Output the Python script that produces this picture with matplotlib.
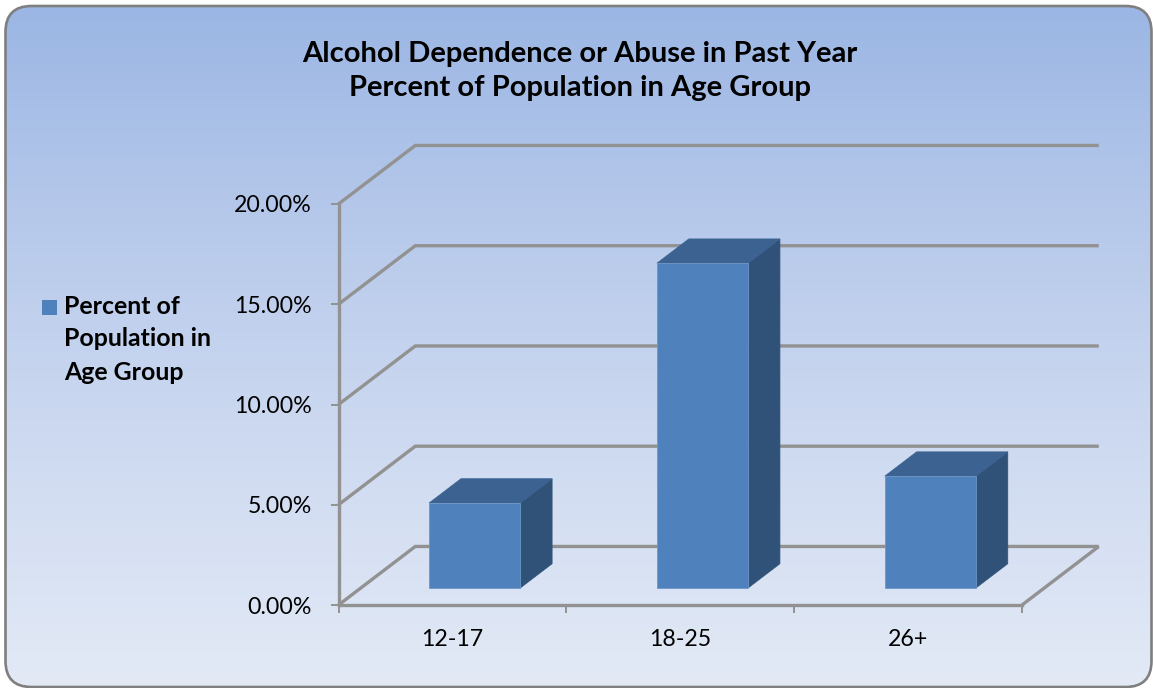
import matplotlib
matplotlib.use('Agg')
import matplotlib.pyplot as plt
import numpy as np
from matplotlib.colors import LinearSegmentedColormap
from matplotlib.patches import FancyBboxPatch, Polygon, Rectangle

W, H = 1153, 688

title_lines = ["Alcohol Dependence or Abuse in Past Year", "Percent of Population in Age Group"]
legend_lines = ["Percent of", "Population in", "Age Group"]
age_groups = ["12-17", "18-25", "26+"]
percents = [4.24, 16.2, 5.58]
y_ticks = [0, 5, 10, 15, 20]

GRID = '#929292'
FRONT = '#4f81bd'
TOP = '#3b6290'
SIDE = '#315278'

# depth of the floor in data units
DX = 0.337
DY = 2.92
BAR_W = 0.40
BAR_NEAR = 0.29
BAR_FAR = 0.705

plt.rcParams['font.family'] = ['Lato', 'DejaVu Sans']

fig = plt.figure(figsize=(W / 100, H / 100), dpi=100, facecolor='white')

# panel with vertical gradient, in pixel coordinates
bg = fig.add_axes([0, 0, 1, 1])
bg.axis('off')
cmap = LinearSegmentedColormap.from_list('panel', ['#9bb6e4', '#b8caeb', '#cfdbf1', '#e3eaf6'])
box = FancyBboxPatch((5.5 + 26, 6 + 26), 1146 - 52, 681 - 52, boxstyle='round,pad=26,rounding_size=26',
                     facecolor='none', edgecolor='#7f7f7f', linewidth=1.9, zorder=3)
bg.add_patch(box)
grad = bg.imshow(np.linspace(0, 1, 256).reshape(-1, 1), cmap=cmap, extent=[5, 1152, 687, 6], aspect='auto', zorder=1)
grad.set_clip_path(box)
bg.set_xlim(0, W)
bg.set_ylim(H, 0)

bg.text(580, 54, title_lines[0], ha='center', va='center', fontsize=21, fontweight='bold', color='black')
bg.text(580, 88, title_lines[1], ha='center', va='center', fontsize=21, fontweight='bold', color='black')

bg.add_patch(Rectangle((42, 300), 15, 15, facecolor=FRONT, edgecolor='none'))
for i, line in enumerate(legend_lines):
    bg.text(64, 306 + 33 * i, line, ha='left', va='center', fontsize=17.9, fontweight='bold', color='black')

# plot area: left axis and front floor edge
ax = fig.add_axes([338.5 / W, 1 - 605 / H, 683.5 / W, 401 / H])
ax.patch.set_alpha(0)
ax.set_xlim(0, 3)
ax.set_ylim(0, 20)
for name in ['top', 'right']:
    ax.spines[name].set_visible(False)
for name in ['left', 'bottom']:
    ax.spines[name].set_color(GRID)
    ax.spines[name].set_linewidth(2.4)
    ax.spines[name].set_zorder(2)

ax.set_yticks(y_ticks)
ax.set_yticklabels(['%.2f%%' % v for v in y_ticks], fontsize=16.7)
ax.set_xticks(range(4))
ax.set_xticklabels([])
ax.set_xticks([0.5, 1.5, 2.5], minor=True)
ax.set_xticklabels(age_groups, minor=True, fontsize=16.7)
ax.tick_params(axis='y', which='major', length=5.5, width=1.4, color=GRID, pad=13.5)
ax.tick_params(axis='x', which='major', length=5.5, width=1.4, color=GRID)
ax.tick_params(axis='x', which='minor', length=0, pad=17)

# back wall and floor lines
for v in y_ticks:
    ax.plot([0, DX, 3 + DX], [v, v + DY, v + DY], color=GRID, lw=2.4, clip_on=False, zorder=1,
            solid_joinstyle='miter', solid_capstyle='butt')
ax.plot([3, 3 + DX], [0, DY], color=GRID, lw=2.4, clip_on=False, zorder=1, solid_capstyle='butt')


def at_depth(x, y, d):
    return (x + d * DX, y + d * DY)


for i, value in enumerate(percents):
    x0 = i + 0.5 - BAR_W / 2
    x1 = x0 + BAR_W
    a = at_depth(x0, 0, BAR_NEAR)
    b = at_depth(x1, 0, BAR_NEAR)
    c = at_depth(x1, value, BAR_NEAR)
    d = at_depth(x0, value, BAR_NEAR)
    e = at_depth(x1, 0, BAR_FAR)
    f = at_depth(x1, value, BAR_FAR)
    g = at_depth(x0, value, BAR_FAR)
    ax.add_patch(Polygon([b, e, f, c], facecolor=SIDE, edgecolor=SIDE, lw=0.5, clip_on=False, zorder=3))
    ax.add_patch(Polygon([d, c, f, g], facecolor=TOP, edgecolor=TOP, lw=0.5, clip_on=False, zorder=3))
    ax.add_patch(Polygon([a, b, c, d], facecolor=FRONT, edgecolor='#6d96c8', lw=0.6, clip_on=False, zorder=4))

fig.savefig('out.png', dpi=100)
